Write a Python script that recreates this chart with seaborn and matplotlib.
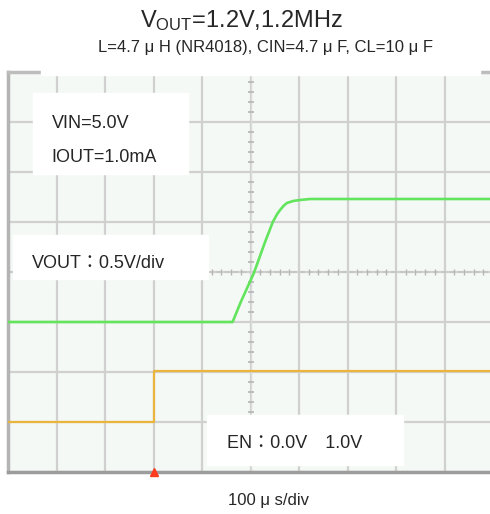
import numpy as np
import pandas as pd
import seaborn as sns
import matplotlib.pyplot as plt
from matplotlib.patches import Rectangle

# scope capture values
# time axis: 100 us/div, 10 divisions
vout_time_us = [0, 463, 480, 507, 530, 546, 555, 561, 568, 575, 588, 602, 623, 1000]
vout_volts = [0.0, 0.0, 0.2, 0.49, 0.8, 1.0, 1.08, 1.12, 1.16, 1.19, 1.21, 1.22, 1.23, 1.23]
en_time_us = [0, 302, 302, 1000]
en_volts = [0.0, 0.0, 1.02, 1.02]
trigger_us = 302

# channel scale (V/div) and ground position (div)
vout_scale, vout_ref = 0.5, 3.0
en_scale, en_ref = 1.0, 1.0

sns.set_style("white")
plt.rcParams['font.family'] = ['Liberation Sans', 'Noto Sans CJK JP']
plt.rcParams['mathtext.fontset'] = 'custom'
plt.rcParams['mathtext.rm'] = 'Liberation Sans'

vout_df = pd.DataFrame({'t': vout_time_us, 'div': np.array(vout_volts) / vout_scale + vout_ref})
en_df = pd.DataFrame({'t': en_time_us, 'div': np.array(en_volts) / en_scale + en_ref})

fig = plt.figure(figsize=(4.9, 5.14), dpi=100)
ax = fig.add_axes([8/490, 42/514, 485/490, 400/514])
ax.set_facecolor('#f4f9f6')

ax.set_xlim(0, 1000)
ax.set_ylim(0, 8)
ax.set_xticks(range(0, 1001, 100))
ax.set_yticks(range(0, 9))
ax.tick_params(length=0, labelbottom=False, labelleft=False)
ax.grid(True, color='#d0d0d0', lw=1.6)
ax.set_axisbelow(True)

# center graticule with minor ticks
ax.axhline(4, color='#c4c4c4', lw=1.2, ls=(0, (3, 2)), zorder=1)
ax.axvline(500, color='#dcdcdc', lw=0.8, zorder=1)
minor_t = [t for t in np.arange(0, 1001, 20) if t % 100]
ax.plot(minor_t, [4] * len(minor_t), ls='none', marker='|', ms=4, mew=1, color='#b5b5b5', zorder=1)
minor_d = [d for d in np.arange(0, 8.01, 0.2) if abs(d - round(d)) > 0.05]
ax.plot([500] * len(minor_d), minor_d, ls='none', marker='_', ms=4, mew=1.2, color='#b5b5b5', zorder=1)

for s in ['left', 'bottom', 'top']:
    ax.spines[s].set_visible(True)
ax.spines['left'].set_color('#b4b4b4')
ax.spines['left'].set_linewidth(2.5)
ax.spines['bottom'].set_color('#9c9c9c')
ax.spines['bottom'].set_linewidth(2.5)
ax.spines['top'].set_color('#bdbdbd')
ax.spines['top'].set_linewidth(2.5)
ax.spines['right'].set_visible(False)

sns.lineplot(data=en_df, x='t', y='div', sort=False, estimator=None, color='#ebb53c', lw=1.6, ax=ax, zorder=3)
sns.lineplot(data=vout_df, x='t', y='div', sort=False, estimator=None, color='#62e45c', lw=1.9, ax=ax, zorder=3)
ax.plot([trigger_us], [0], marker='^', ms=6, color='#ff3b1f', clip_on=False, zorder=6)
ax.set_xlabel('')
ax.set_ylabel('')

# white label boxes
boxes = [(0.0515, 0.745, 0.32, 0.2025), (0.0103, 0.4825, 0.402, 0.11), (0.41, 0.0175, 0.404, 0.125)]
for x0, y0, w, h in boxes:
    ax.add_patch(Rectangle((x0, y0), w, h, transform=ax.transAxes, color='white', zorder=4))
ax.add_patch(Rectangle((0.068, 0.993), 0.905, 0.2, transform=ax.transAxes, color='white', clip_on=False, zorder=5))

ax.text(0.090, 0.86, 'VIN=5.0V', transform=ax.transAxes, fontsize=13, va='baseline', zorder=6)
ax.text(0.090, 0.776, 'IOUT=1.0mA', transform=ax.transAxes, fontsize=13, va='baseline', zorder=6)
ax.text(0.049, 0.509, 'VOUT：0.5V/div', transform=ax.transAxes, fontsize=13, va='baseline', zorder=6)
ax.text(0.4515, 0.059, 'EN：0.0V\u30001.0V', transform=ax.transAxes, fontsize=13, va='baseline', zorder=6)

fig.text(241.5/490, 1 - 26.7/514, r'$\mathregular{V_{OUT}}$=1.2V,1.2MHz', fontsize=17, ha='center', va='baseline')
fig.text(265/490, 1 - 52/514, 'L=4.7 μ H (NR4018), CIN=4.7 μ F, CL=10 μ F', fontsize=12, ha='center', va='baseline')
fig.text(268.5/490, 1 - 505/514, '100 μ s/div', fontsize=12, ha='center', va='baseline')

fig.savefig('out.png', dpi=100, facecolor='white')
